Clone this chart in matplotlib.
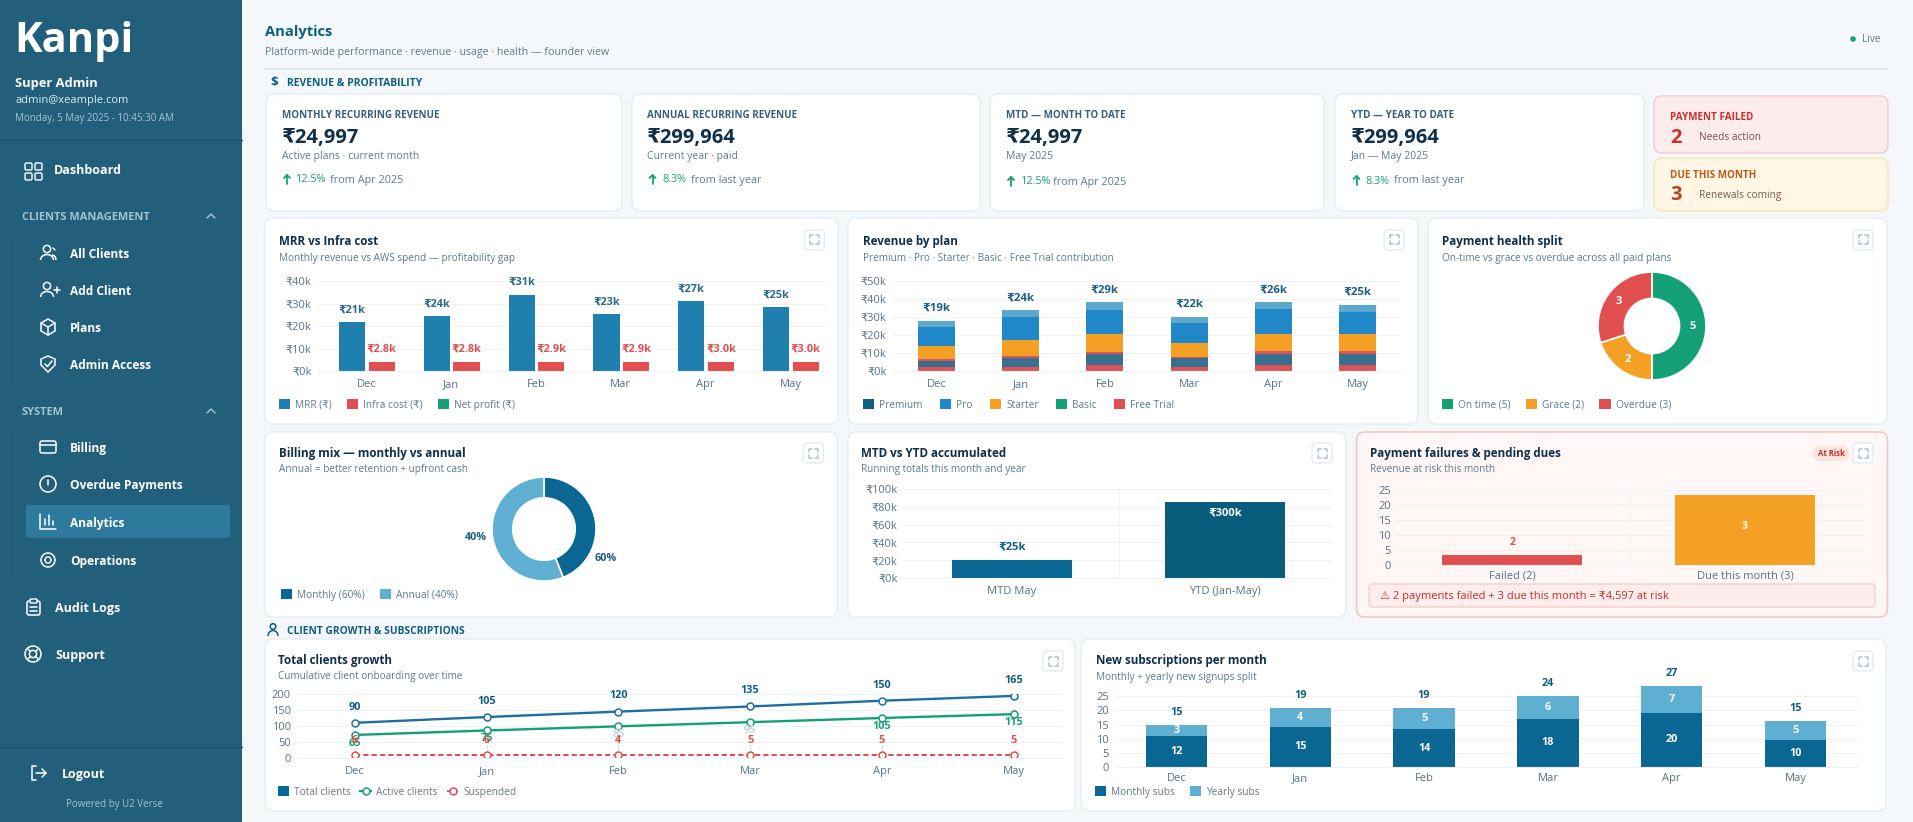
import matplotlib
matplotlib.use("Agg")
import matplotlib.pyplot as plt
from matplotlib.patches import FancyBboxPatch, Circle, Arc, Patch, Polygon
from matplotlib.lines import Line2D

plt.rcParams['font.family'] = ['Open Sans', 'DejaVu Sans']

W, H = 1913, 822

# data
months = ['Dec', 'Jan', 'Feb', 'Mar', 'Apr', 'May']

mrr_bars = [21.6, 24.3, 34.0, 25.2, 31.0, 28.3]
infra_bars = [4.0, 4.0, 4.0, 4.0, 4.0, 4.0]
mrr_labels = ['₹21k', '₹24k', '₹31k', '₹23k', '₹27k', '₹25k']
infra_labels = ['₹2.8k', '₹2.8k', '₹2.9k', '₹2.9k', '₹3.0k', '₹3.0k']

plan_free = [2.0, 2.2, 3.1, 2.2, 3.1, 3.1]
plan_premium = [3.7, 4.8, 6.3, 4.8, 6.3, 6.3]
plan_basic = [0.9, 1.1, 1.3, 0.7, 1.7, 1.7]
plan_starter = [7.2, 9.1, 9.8, 8.0, 9.4, 9.4]
plan_pro = [10.7, 12.8, 13.3, 11.1, 13.7, 12.4]
plan_top = [3.5, 3.7, 4.3, 3.3, 3.9, 3.7]
plan_labels = ['₹19k', '₹24k', '₹29k', '₹22k', '₹26k', '₹25k']

health_names = ['On time (5)', 'Grace (2)', 'Overdue (3)']
health_counts = [5, 2, 3]

mix_names = ['Monthly (60%)', 'Annual (40%)']
mix_slices = [44, 56]

acc_names = ['MTD May', 'YTD (Jan-May)']
acc_bars = [19.9, 85.0]

risk_names = ['Failed (2)', 'Due this month (3)']
risk_bars = [3.3, 23.4]

total_line = [110, 128, 145, 161, 179, 194]
active_line = [72, 86, 99, 112, 125, 137]
suspended_line = [10, 10, 10, 10, 10, 10]
total_labels = [90, 105, 120, 135, 150, 165]
active_labels = [65, 75, 85, 95, 105, 115]
suspended_labels = [6, 6, 4, 5, 5, 5]

subs_monthly = [10.9, 14.2, 13.4, 17.0, 19.1, 9.6]
subs_yearly = [4.0, 6.5, 7.3, 8.1, 9.5, 6.8]
subs_monthly_labels = [12, 15, 14, 18, 20, 10]
subs_yearly_labels = [3, 4, 5, 6, 7, 5]
subs_total_labels = [15, 19, 19, 24, 27, 15]

# colours
NAVY = '#10304A'
SLATE = '#5E7B8E'
TICK = '#55748A'
GRID = '#EDF2F6'
BORDER = '#E4EDF3'
BLUE = '#1F7FAF'
RED = '#E14F50'
GREEN = '#14A077'
ORANGE = '#F3A024'
DARK = '#0A6794'
LIGHT = '#5FAFD3'
SIDE = '#215F7B'

fig = plt.figure(figsize=(W / 100, H / 100), dpi=100, facecolor='#F5F8FA')
bg = fig.add_axes([0, 0, 1, 1])
bg.set_xlim(0, W)
bg.set_ylim(H, 0)
bg.axis('off')


def rrect(x0, y0, x1, y1, r=8, fc='white', ec=BORDER, lw=1.0, z=2):
    p = FancyBboxPatch((x0, y0), x1 - x0, y1 - y0,
                       boxstyle='round,pad=0,rounding_size=%g' % r,
                       fc=fc, ec=ec, lw=lw, zorder=z)
    bg.add_patch(p)


def txt(x, y, s, size=8, color=SLATE, weight='normal', ha='left', z=5):
    # va center sits a little high for this font
    bg.text(x, y + 1, s, fontsize=size, color=color, fontweight=weight,
            ha=ha, va='center', zorder=z)


def line(xs, ys, color='white', lw=1.1, z=5):
    bg.plot(xs, ys, color=color, lw=lw, zorder=z, solid_capstyle='round')


def circ(x, y, r, ec='white', fc='none', lw=1.1, z=5):
    bg.add_patch(Circle((x, y), r, ec=ec, fc=fc, lw=lw, zorder=z))


def expand_btn(x0, y0, size=20):
    rrect(x0, y0, x0 + size, y0 + size, r=4, ec='#E2ECF3')
    a, b = x0 + 5.5, x0 + size - 5.5
    c, d = y0 + 5.5, y0 + size - 5.5
    col = '#A9C4D6'
    line([a, a, a + 3], [c + 3, c, c], col)
    line([b - 3, b, b], [c, c, c + 3], col)
    line([a, a, a + 3], [d - 3, d, d], col)
    line([b - 3, b, b], [d, d, d - 3], col)


def card(x0, y0, x1, y1, title, sub, tx, ty, sy, btn_x, btn_y):
    rrect(x0, y0, x1, y1)
    txt(tx, ty, title, 8.4, NAVY, 'bold')
    txt(tx, sy, sub, 7.2, SLATE)
    expand_btn(btn_x, btn_y)


def chart_ax(x0, y0, x1, y1, xpad=11.5):
    ax = fig.add_axes([x0 / W, 1 - y1 / H, (x1 - x0) / W, (y1 - y0) / H], zorder=3)
    ax.patch.set_visible(False)
    for s in ['top', 'right', 'left']:
        ax.spines[s].set_visible(False)
    ax.spines['bottom'].set_color(GRID)
    ax.tick_params(length=0, labelsize=8, labelcolor=TICK, pad=4.5)
    ax.tick_params(axis='x', pad=xpad)
    ax.grid(axis='y', color=GRID, lw=0.8)
    ax.set_axisbelow(True)
    return ax


def xlabels(ax, ticks, names):
    # baseline alignment keeps Jan level with the other months
    ax.set_xticks(ticks, names, va='baseline')


def add_legend(ax, x, y, handles, labels, spacing=1.5):
    ax.legend(handles, labels, loc='center left', bbox_to_anchor=(x / W, 1 - y / H),
              bbox_transform=fig.transFigure, ncol=len(labels), frameon=False,
              fontsize=7.3, labelcolor=SLATE, handlelength=1.1, handleheight=1.0,
              handletextpad=0.5, columnspacing=spacing, borderpad=0, borderaxespad=0)


def square(color):
    return Patch(fc=color, ec='none')


def label(ax, x, y, s, color, dy=7, size=7.8):
    ax.annotate(str(s), (x, y), xytext=(0, dy), textcoords='offset points',
                ha='center', va='center', fontsize=size, fontweight='bold',
                color=color, annotation_clip=False)


# sidebar
bg.fill_between([0, 242], 0, H, color=SIDE, zorder=1, lw=0)
txt(14, 40, 'Kanpi', 30, 'white', 'bold')
txt(15, 82, 'Super Admin', 9.3, 'white', 'bold')
txt(15, 100, 'admin@xeample.com', 8.0, '#E3EEF3')
txt(15, 117, 'Monday, 5 May 2025 - 10:45:30 AM', 7.05, '#A9C4D2')
line([0, 242], [140, 140], '#1B5069', 1.0)
line([11.5, 11.5], [236, 382], '#1C5A75', 1.0)
line([11.5, 11.5], [430, 578], '#1C5A75', 1.0)
line([0, 242], [747, 747], '#1B5069', 1.0)
rrect(26, 505, 230, 538, r=3, fc='#2E7A9C', ec='none', z=2)

txt(22, 216, 'CLIENTS MANAGEMENT', 7.9, '#A5C3D1', 'bold')
txt(22, 411, 'SYSTEM', 7.9, '#A5C3D1', 'bold')
for cy in [216, 411]:
    line([207, 211, 215], [cy + 2, cy - 2, cy + 2], '#A5C3D1')

nav_top = [('Dashboard', 54, 170), ('Audit Logs', 55, 607), ('Support', 55, 654), ('Logout', 62, 773)]
nav_sub = [('All Clients', 253), ('Add Client', 290), ('Plans', 327), ('Admin Access', 364),
           ('Billing', 447), ('Overdue Payments', 484), ('Analytics', 522), ('Operations', 560)]
for name, x, y in nav_top:
    txt(x, y, name, 9, 'white', 'bold')
for name, y in nav_sub:
    txt(70, y, name, 8.6, 'white', 'bold')
for c in [(25, 163), (35, 163), (25, 173), (35, 173)]:
    rrect(c[0], c[1], c[0] + 7, c[1] + 7, r=1.5, fc='none', ec='white', lw=1.0, z=5)

# all clients / add client
for y in [253, 290]:
    circ(47, y - 4, 3.6)
    bg.add_patch(Arc((47, y + 7), 13, 11, theta1=180, theta2=360, ec='white', lw=1.1, zorder=5))
line([53, 55], [248, 250])
bg.add_patch(Arc((52, 260), 8, 10, theta1=270, theta2=360, ec='white', lw=1.1, zorder=5))
line([54, 60], [290, 290])
line([57, 57], [287, 293])
# plans
bg.add_patch(Polygon([(48, 319), (55, 323), (55, 331), (48, 335), (41, 331), (41, 323)],
                     fc='none', ec='white', lw=1.1, zorder=5))
line([41, 48, 55], [323, 327, 323])
line([48, 48], [327, 335])
# admin access
bg.add_patch(Polygon([(48, 356), (55, 359), (55, 365), (48, 372), (41, 365), (41, 359)],
                     fc='none', ec='white', lw=1.1, zorder=5))
line([45, 47.5, 52], [364, 366.5, 361])
# billing
rrect(40, 441, 56, 453, r=2, fc='none', ec='white', lw=1.1, z=5)
line([40, 56], [445, 445])
# overdue
circ(48, 484, 8)
line([48, 48], [480, 485])
line([48, 48], [488, 488.3])
# analytics
line([40, 40, 56], [514, 529, 529])
line([45, 45], [525, 519])
line([49, 49], [525, 515])
line([53, 53], [525, 521])
# operations
circ(48, 560, 3)
circ(48, 560, 7)
# audit logs
rrect(27, 601, 40, 615, r=2, fc='none', ec='white', lw=1.1, z=5)
rrect(30, 599, 37, 603, r=1, fc=SIDE, ec='white', lw=1.0, z=6)
line([30, 37], [607, 607])
line([30, 37], [611, 611])
# support
circ(33, 654, 8)
circ(33, 654, 3.6)
line([28, 30.5], [649, 651.5])
line([38, 35.5], [649, 651.5])
line([28, 30.5], [659, 656.5])
line([38, 35.5], [659, 656.5])
# logout
line([36, 32, 32, 36], [766, 766, 780, 780])
line([36, 46], [773, 773])
line([42, 46, 42], [769, 773, 777])
txt(66, 803, 'Powered by U2 Verse', 7, '#A9C4D2')

# header
txt(265, 31, 'Analytics', 10.6, '#0F5F82', 'bold')
txt(265, 51, 'Platform-wide performance · revenue · usage · health — founder view', 7.7, SLATE)
line([264, 1888], [69, 69], '#DCE7EF', 1.2)
circ(1853, 39, 2.8, ec='none', fc=GREEN)
txt(1862, 39, 'Live', 7.2, SLATE)
txt(270, 81, '$', 9.5, '#0F5F82', 'bold')
txt(287, 82, 'REVENUE & PROFITABILITY', 7.5, '#0F5F82', 'bold')
circ(273, 626.5, 2.8, ec='#0F5F82')
bg.add_patch(Arc((273, 636), 10, 11, theta1=180, theta2=360, ec='#0F5F82', lw=1.1, zorder=5))
txt(287, 630, 'CLIENT GROWTH & SUBSCRIPTIONS', 7.4, '#0F5F82', 'bold')

# kpi cards
kpis = [
    (266, 622, 'MONTHLY RECURRING REVENUE', '₹24,997', 'Active plans · current month', '12.5%', 'from Apr 2025', 281.5, 296, 330, 179),
    (632, 980, 'ANNUAL RECURRING REVENUE', '₹299,964', 'Current year · paid', '8.3%', 'from last year', 647, 662.5, 691, 179),
    (990, 1324, 'MTD — MONTH TO DATE', '₹24,997', 'May 2025', '12.5%', 'from Apr 2025', 1005.5, 1021, 1053, 181),
    (1335, 1644, 'YTD — YEAR TO DATE', '₹299,964', 'Jan — May 2025', '8.3%', 'from last year', 1351, 1366, 1394, 180),
]
for x0, x1, head, val, sub, pct, rest, tx, px_, fx, ry in kpis:
    rrect(x0, 94, x1, 211)
    txt(tx, 115, head, 7.1, '#3A6078', 'bold')
    txt(tx, 137, val, 14.5, NAVY, 'bold')
    txt(tx, 155, sub, 7.5, SLATE)
    line([tx + 5.5, tx + 5.5], [ry + 5, ry - 4], GREEN, 1.3)
    line([tx + 2.5, tx + 5.5, tx + 8.5], [ry - 1, ry - 4, ry - 1], GREEN, 1.3)
    txt(px_, ry, pct, 7.8, '#1BA27A')
    txt(fx, ry, rest, 7.8, SLATE)

rrect(1654, 96, 1888, 153, fc='#FDECEC', ec='#F5C9C7')
txt(1670, 116, 'PAYMENT FAILED', 7.1, '#C8322E', 'bold')
txt(1670, 137, '2', 14.5, '#C8322E', 'bold')
txt(1699, 137, 'Needs action', 7.3, '#7A4B4B')
rrect(1654, 158, 1888, 211, fc='#FFF6E6', ec='#FBE3B5')
txt(1670, 174, 'DUE THIS MONTH', 7.1, '#BC5A18', 'bold')
txt(1670, 194, '3', 14.5, '#B5451F', 'bold')
txt(1699, 194, 'Renewals coming', 7.3, '#7A5B4B')

# MRR vs infra
card(264.5, 218, 838, 424, 'MRR vs Infra cost', 'Monthly revenue vs AWS spend — profitability gap',
     279, 240, 257, 804.5, 230)
ax = chart_ax(318, 281, 826, 371)
xs = list(range(len(months)))
ax.bar([x - 0.17 for x in xs], mrr_bars, 0.31, color=BLUE)
ax.bar([x + 0.18 for x in xs], infra_bars, 0.31, color=RED)
for i in xs:
    label(ax, i - 0.17, mrr_bars[i], mrr_labels[i], '#2A6A8F', 9)
    label(ax, i + 0.18, infra_bars[i], infra_labels[i], RED, 9)
ax.set_xlim(-0.572, 5.42)
ax.set_ylim(0, 40)
ax.set_yticks([0, 10, 20, 30, 40], ['₹0k', '₹10k', '₹20k', '₹30k', '₹40k'])
xlabels(ax, xs, months)
add_legend(ax, 279, 405, [square(BLUE), square(RED), square(GREEN)],
           ['MRR (₹)', 'Infra cost (₹)', 'Net profit (₹)'])

# revenue by plan
card(848, 218, 1418, 424, 'Revenue by plan', 'Premium · Pro · Starter · Basic · Free Trial contribution',
     863, 240, 257, 1384, 230)
ax = chart_ax(893, 281, 1400, 371)
stack = [(plan_free, '#DC5457'), (plan_premium, '#386E8E'), (plan_basic, '#DC5457'),
         (plan_starter, ORANGE), (plan_pro, '#2088C8'), (plan_top, '#5BA9CC')]
base = [0] * 6
for vals, col in stack:
    ax.bar(xs, vals, 0.44, bottom=base, color=col)
    base = [b + v for b, v in zip(base, vals)]
for i in xs:
    label(ax, i, base[i], plan_labels[i], '#1F5F82', 9, 8.2)
ax.set_xlim(-0.513, 5.50)
ax.set_ylim(0, 50)
ax.set_yticks([0, 10, 20, 30, 40, 50], ['₹0k', '₹10k', '₹20k', '₹30k', '₹40k', '₹50k'])
xlabels(ax, xs, months)
add_legend(ax, 863, 405, [square('#0F5F82'), square('#2088C8'), square(ORANGE), square(GREEN), square(RED)],
           ['Premium', 'Pro', 'Starter', 'Basic', 'Free Trial'], spacing=1.7)

# payment health donut
card(1428, 218, 1887, 424, 'Payment health split', 'On-time vs grace vs overdue across all paid plans',
     1442, 240, 257, 1853, 230)
ax = fig.add_axes([(1652 - 54) / W, 1 - (326 + 54) / H, 108 / W, 108 / H], zorder=3)
wedges, texts = ax.pie(health_counts, colors=[GREEN, ORANGE, RED], labels=health_counts,
                       labeldistance=0.76, startangle=90, counterclock=False,
                       wedgeprops=dict(width=0.49, edgecolor='white', linewidth=1.2),
                       textprops=dict(color='white', fontweight='bold', fontsize=8))
for t_ in texts:
    t_.set_ha('center')
    t_.set_va('center')
ax.set_xlim(-1, 1)
ax.set_ylim(-1, 1)
add_legend(ax, 1442, 405, [square(GREEN), square(ORANGE), square(RED)], health_names)

# billing mix donut
card(264.5, 432, 837.5, 617, 'Billing mix — monthly vs annual', 'Annual = better retention + upfront cash',
     279, 452, 468, 803.5, 443)
ax = fig.add_axes([(544 - 52) / W, 1 - (529 + 52) / H, 104 / W, 104 / H], zorder=3)
ax.pie(mix_slices, colors=[DARK, LIGHT], startangle=90, counterclock=False,
       wedgeprops=dict(width=0.4, edgecolor='white', linewidth=1.2))
ax.set_xlim(-1, 1)
ax.set_ylim(-1, 1)
ax.text(1.19, -0.56, '60%', fontsize=7.8, fontweight='bold', color='#1F5F82', ha='center', va='center')
ax.text(-1.31, -0.17, '40%', fontsize=7.8, fontweight='bold', color='#1F5F82', ha='center', va='center')
add_legend(ax, 281, 595, [square(DARK), square(LIGHT)], mix_names)

# MTD vs YTD
card(848, 432, 1346, 617, 'MTD vs YTD accumulated', 'Running totals this month and year',
     861, 452, 468, 1312, 443)
ax = chart_ax(904, 489, 1332, 578)
ax.bar([0, 1], acc_bars, 0.565, color=[DARK, '#085C7C'])
label(ax, 0, acc_bars[0], '₹25k', '#0F5F82', 9.2, 8)
label(ax, 1, acc_bars[1], '₹300k', 'white', -8, 8)
ax.set_xlim(-0.507, 1.502)
ax.set_ylim(0, 100)
ax.set_yticks([0, 20, 40, 60, 80, 100], ['₹0k', '₹20k', '₹40k', '₹60k', '₹80k', '₹100k'])
xlabels(ax, [0, 1], acc_names)
ax.axvline(0.5, color=GRID, lw=0.8, zorder=0)

# payment failures
rrect(1356.5, 432, 1887.5, 617, fc='#FFF7F6', ec='#F5C6C3', lw=1.2)
txt(1370, 452, 'Payment failures & pending dues', 8.4, NAVY, 'bold')
txt(1370, 468, 'Revenue at risk this month', 7.2, SLATE)
rrect(1813, 446, 1849, 461, r=7, fc='#FBE3E2', ec='none')
txt(1831, 452.5, 'At Risk', 5.6, '#B5332E', 'bold', ha='center')
expand_btn(1853, 443)
ax = chart_ax(1397, 490, 1865, 565, xpad=10)
ax.bar([0, 1], risk_bars, 0.6, color=[RED, ORANGE])
label(ax, 0, risk_bars[0], 2, RED, 9, 7.5)
ax.annotate('3', (1, risk_bars[1] / 2 + 1), ha='center', va='center', fontsize=7.5,
            fontweight='bold', color='white')
ax.set_xlim(-0.494, 1.515)
ax.set_ylim(0, 25)
ax.set_yticks([0, 5, 10, 15, 20, 25])
xlabels(ax, [0, 1], risk_names)
ax.axvline(0.5, color=GRID, lw=0.8, zorder=0)
rrect(1369, 584, 1875, 607, r=3, fc='#FDECEC', ec='#F5C9C7', lw=0.9)
txt(1380, 595.5, '⚠ 2 payments failed + 3 due this month = ₹4,597 at risk', 8, '#C0302B')

# total clients growth
card(265, 639, 1075, 811, 'Total clients growth', 'Cumulative client onboarding over time',
     278, 659, 675, 1043, 651)
ax = chart_ax(297, 694, 1063, 758)
mk = dict(marker='o', ms=5, mfc='white', mew=1.1)
ax.vlines(xs[:5], suspended_line[:5], 42, color='#D5E1E9', lw=0.8)
ax.plot(xs, total_line, color='#1D6FA3', lw=1.7, **mk)
ax.plot(xs, active_line, color=GREEN, lw=1.7, **mk)
ax.plot(xs, suspended_line, color=RED, lw=1.5, ls=(0, (2.5, 1.5)), **mk)
for i in xs:
    label(ax, i, total_line[i], total_labels[i], '#0F5F82', 11.3)
    # Feb and Mar values are washed out in the original
    col = '#C9D8E2' if months[i] in ('Feb', 'Mar') else GREEN
    label(ax, i, active_line[i], active_labels[i], col, -6)
    label(ax, i, suspended_line[i], suspended_labels[i], RED, 10.5)
ax.set_xlim(-0.438, 5.374)
ax.set_ylim(0, 200)
ax.set_yticks([0, 50, 100, 150, 200])
xlabels(ax, xs, months)
add_legend(ax, 278, 792,
           [square(DARK),
            Line2D([], [], color=GREEN, lw=1.5, **mk),
            Line2D([], [], color=RED, lw=1.3, ls=(0, (2.5, 1.5)), **mk)],
           ['Total clients', 'Active clients', 'Suspended'], spacing=0.9)

# new subscriptions
card(1081, 639, 1886, 811, 'New subscriptions per month', 'Monthly + yearly new signups split',
     1096, 659, 676, 1853, 651)
ax = chart_ax(1115, 682, 1858, 767, xpad=10)
ax.bar(xs, subs_monthly, 0.497, color=DARK)
ax.bar(xs, subs_yearly, 0.497, bottom=subs_monthly, color=LIGHT)
for i in xs:
    ax.annotate(str(subs_monthly_labels[i]), (i, subs_monthly[i] / 2), ha='center', va='center',
                fontsize=7.8, fontweight='bold', color='white')
    ax.annotate(str(subs_yearly_labels[i]), (i, subs_monthly[i] + subs_yearly[i] / 2), ha='center',
                va='center', fontsize=7.8, fontweight='bold', color='white')
    label(ax, i, subs_monthly[i] + subs_yearly[i], subs_total_labels[i], '#0F5F82', 9)
ax.set_xlim(-0.497, 5.505)
ax.set_ylim(0, 30)
ax.set_yticks([0, 5, 10, 15, 20, 25])
xlabels(ax, xs, months)
add_legend(ax, 1095, 792, [square(DARK), square(LIGHT)], ['Monthly subs', 'Yearly subs'])

fig.savefig('out.png', dpi=100, facecolor=fig.get_facecolor())
